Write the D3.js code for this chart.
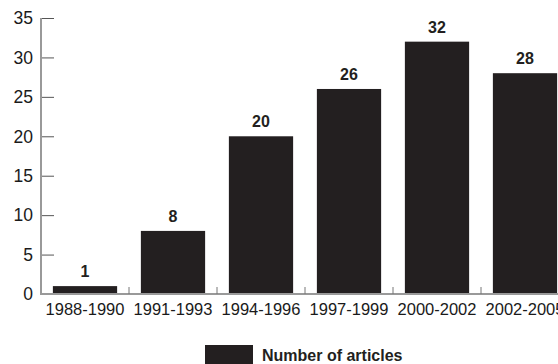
<!DOCTYPE html>
<html>
<head>
<meta charset="utf-8">
<script src="https://cdn.jsdelivr.net/npm/d3@7"></script>
<style>
  body { margin: 0; background: #fff; }
  svg { display: block; font-family: "Liberation Sans", Arial, sans-serif; }
</style>
</head>
<body>
<div class="chart"></div>
<script>
var periods = ["1988-1990", "1991-1993", "1994-1996", "1997-1999", "2000-2002", "2002-2005"];
var articles = [1, 8, 20, 26, 32, 28];
var yTicks = [0, 5, 10, 15, 20, 25, 30, 35];
var legendLabel = "Number of articles";

var svgWidth = 558;
var svgHeight = 364;

var svg = d3.select(".chart")
    .append("svg")
    .attr("width", svgWidth)
    .attr("height", svgHeight);

var x0 = 41, y0 = 294;

var xScale = d3.scaleBand()
    .domain(periods)
    .range([x0, x0 + 6 * 88])
    .paddingInner(0.27)
    .paddingOuter(0.135);

var yScale = d3.scaleLinear()
    .domain([0, 35])
    .range([y0, 18]);

var barColor = "#231f20";

// bars
svg.selectAll("rect.bar")
    .data(articles)
    .enter()
    .append("rect")
    .attr("class", "bar")
    .attr("x", (d, i) => xScale(periods[i]))
    .attr("y", d => yScale(d))
    .attr("width", xScale.bandwidth())
    .attr("height", d => y0 - yScale(d))
    .attr("fill", barColor);

// value labels
svg.selectAll("text.val")
    .data(articles)
    .enter()
    .append("text")
    .attr("class", "val")
    .attr("x", (d, i) => xScale(periods[i]) + xScale.bandwidth() / 2)
    .attr("y", d => yScale(d) - 9)
    .attr("text-anchor", "middle")
    .attr("font-size", 16)
    .attr("font-weight", "bold")
    .attr("fill", barColor)
    .text(d => d);

// y axis
var leftAxis = d3.axisRight(yScale)
    .tickValues(yTicks)
    .tickSize(13)
    .tickFormat("");

var yAxis = svg.append("g")
    .attr("transform", `translate(${x0}, 0)`)
    .call(leftAxis);
yAxis.select(".domain").remove();
yAxis.selectAll("line").attr("stroke", "#555");

svg.append("line")
    .attr("x1", x0).attr("x2", x0)
    .attr("y1", yScale(35)).attr("y2", y0 + 1)
    .attr("stroke", "#999")
    .attr("stroke-width", 2);

svg.selectAll("text.ylab")
    .data(yTicks)
    .enter()
    .append("text")
    .attr("class", "ylab")
    .attr("x", 33)
    .attr("y", d => yScale(d))
    .attr("dy", "0.36em")
    .attr("text-anchor", "end")
    .attr("font-size", 17.5)
    .attr("fill", "#1a1a1a")
    .text(d => d);

// x axis
svg.append("line")
    .attr("x1", x0).attr("x2", svgWidth)
    .attr("y1", y0).attr("y2", y0)
    .attr("stroke", "#999")
    .attr("stroke-width", 2);

svg.selectAll("line.xtick")
    .data(periods.slice(1))
    .enter()
    .append("line")
    .attr("class", "xtick")
    .attr("x1", d => xScale(d) - xScale.step() * xScale.paddingInner() / 2)
    .attr("x2", d => xScale(d) - xScale.step() * xScale.paddingInner() / 2)
    .attr("y1", y0)
    .attr("y2", y0 - 7)
    .attr("stroke", "#777");

svg.selectAll("text.xlab")
    .data(periods)
    .enter()
    .append("text")
    .attr("class", "xlab")
    .attr("x", d => xScale(d) + xScale.bandwidth() / 2)
    .attr("y", 315)
    .attr("text-anchor", "middle")
    .attr("font-size", 16.5)
    .attr("fill", "#1a1a1a")
    .text(d => d);

// legend
svg.append("rect")
    .attr("x", 205)
    .attr("y", 345)
    .attr("width", 48)
    .attr("height", 19)
    .attr("fill", barColor);

svg.append("text")
    .attr("x", 262)
    .attr("y", 361)
    .attr("font-size", 16)
    .attr("font-weight", "bold")
    .attr("fill", barColor)
    .text(legendLabel);
</script>
</body>
</html>
